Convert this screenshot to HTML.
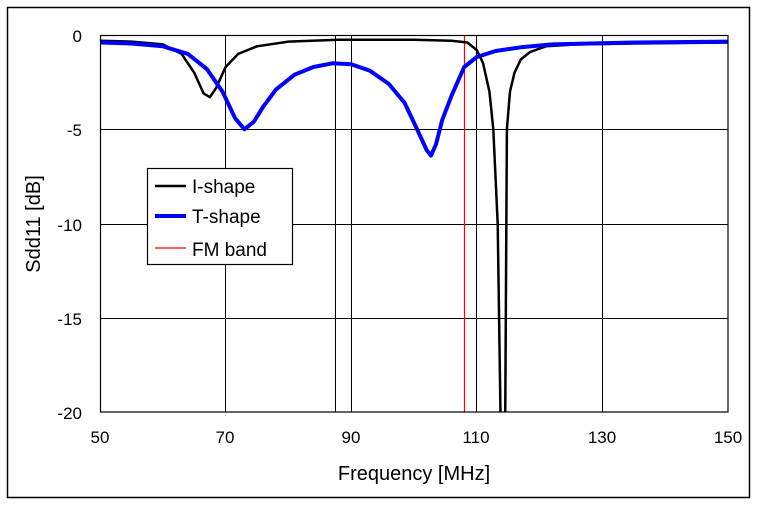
<!DOCTYPE html>
<html><head><meta charset="utf-8"><style>
body{margin:0;background:#fff}
svg text{font-family:"Liberation Sans","DejaVu Sans",sans-serif;fill:#000}
</style></head><body>
<svg width="757" height="505" viewBox="0 0 757 505" xmlns="http://www.w3.org/2000/svg">
<rect x="0" y="0" width="757" height="505" fill="#fff"/>
<rect x="7.5" y="7.5" width="742" height="490" fill="none" stroke="#000" stroke-width="1.5"/>
<g stroke="#000" stroke-width="1">
<line x1="100" y1="129.5" x2="728" y2="129.5"/>
<line x1="100" y1="224.5" x2="728" y2="224.5"/>
<line x1="100" y1="318.5" x2="728" y2="318.5"/>
<line x1="225.5" y1="35" x2="225.5" y2="412"/>
<line x1="351.5" y1="35" x2="351.5" y2="412"/>
<line x1="476.5" y1="35" x2="476.5" y2="412"/>
<line x1="602.5" y1="35" x2="602.5" y2="412"/>
<line x1="335.5" y1="35" x2="335.5" y2="412"/>
</g>
<line x1="464.5" y1="35" x2="464.5" y2="412" stroke="#f00" stroke-width="1.2"/>
<svg x="100" y="35" width="628" height="377" viewBox="100 35 628 377" overflow="hidden">
<polyline fill="none" stroke="#000" stroke-width="2.5" stroke-linejoin="round" points="100,40.7 131.4,41.6 162.8,44.4 181.6,53.9 194.2,72.7 203.6,93.4 209.9,97.2 216.2,87.8 225.6,67 238.2,53.9 257,46.3 288.4,41.6 338.6,39.7 414,39.7 451.7,40.7 467.4,42.5 476.8,50.1 483,63 489.4,91.5 493.3,129 497.7,224 500.6,421 505.2,421 506.9,129 510,91.5 514.5,72.7 520.8,59.5 530,52 546,46.3 577.3,44.4 633.8,43.5 728,42.5"/>
<polyline fill="none" stroke="#00f" stroke-width="4" stroke-linejoin="round" points="100,42.5 131.4,43.5 162.8,46.3 187.9,53.9 206.8,69 222.5,91.6 235,118 244.4,129.3 253.9,121.7 263.3,106.6 275.8,89.7 294.7,74.6 313.5,67 332.4,63.3 351.2,64.2 370,70.8 388.9,84 404.6,102.9 417.1,129.3 426.6,150 431,155.6 436,144.3 442.3,119.8 451.7,95.3 464.2,67 476.8,57 495.6,51 520.8,47.3 552.2,44.4 633.8,42.5 728,41.6"/>
</svg>
<rect x="100.5" y="35.5" width="627.5" height="376.5" fill="none" stroke="#000" stroke-width="1.2"/>
<g font-size="17" text-anchor="end">
<text x="82" y="42">0</text>
<text x="82" y="136">-5</text>
<text x="82" y="231">-10</text>
<text x="82" y="325">-15</text>
<text x="82" y="419">-20</text>
</g>
<g font-size="17" text-anchor="middle">
<text x="100" y="443">50</text>
<text x="225" y="443">70</text>
<text x="351" y="443">90</text>
<text x="476" y="443">110</text>
<text x="602" y="443">130</text>
<text x="728" y="443">150</text>
</g>
<text x="414" y="480" font-size="20" text-anchor="middle">Frequency [MHz]</text>
<text transform="translate(40,224) rotate(-90)" font-size="20" text-anchor="middle">Sdd11 [dB]</text>
<rect x="147.5" y="168.5" width="145" height="96" fill="#fff" stroke="#000" stroke-width="1.2"/>
<line x1="155" y1="186" x2="186" y2="186" stroke="#000" stroke-width="2.5"/>
<line x1="155" y1="216" x2="186" y2="216" stroke="#00f" stroke-width="4"/>
<line x1="155" y1="248" x2="186" y2="248" stroke="#f00" stroke-width="1.2"/>
<g font-size="19">
<text x="192" y="193">I-shape</text>
<text x="192" y="223">T-shape</text>
<text x="192" y="256">FM band</text>
</g>
</svg>
</body></html>
